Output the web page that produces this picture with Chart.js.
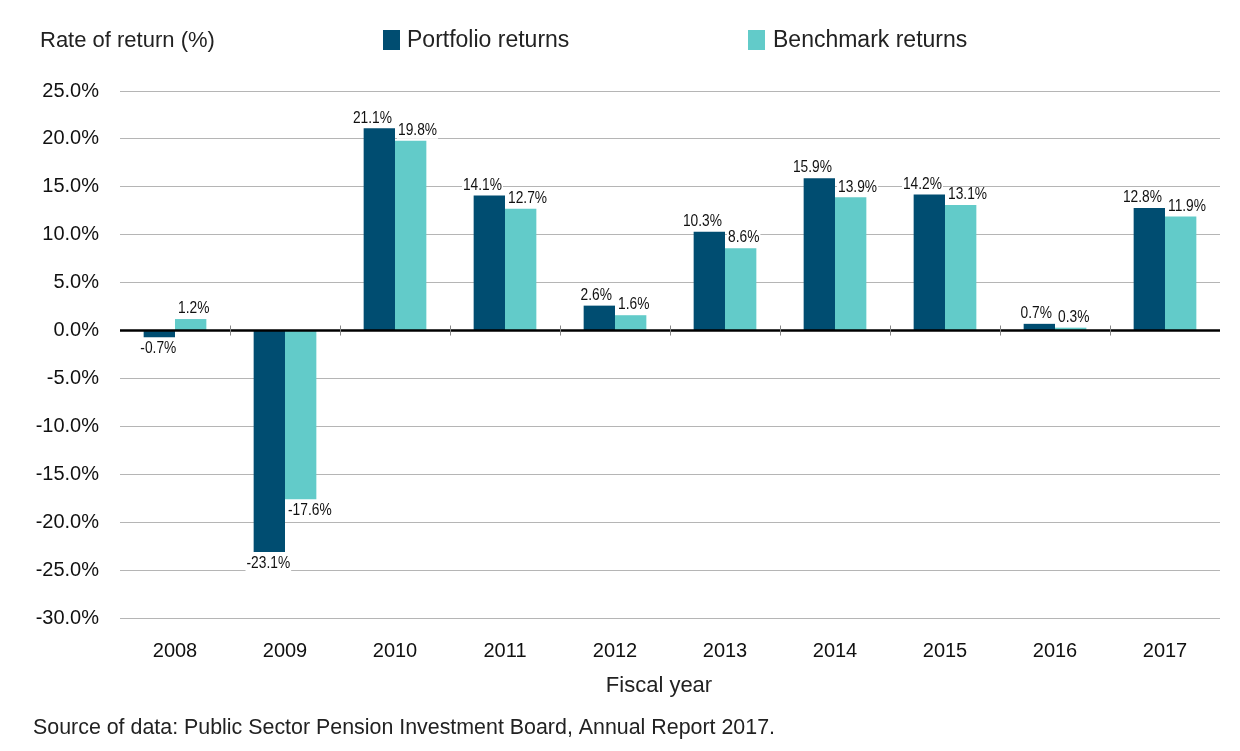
<!DOCTYPE html>
<html>
<head>
<meta charset="utf-8">
<script src="https://cdn.jsdelivr.net/npm/chart.js@4"></script>
<style>
  html, body { margin: 0; padding: 0; background: #fff; }
  #wrap { position: relative; width: 1240px; height: 751px; }
</style>
</head>
<body>
<div id="wrap"><canvas id="returnsChart" width="1240" height="751"></canvas></div>
<script>
// chart values
var years = ['2008', '2009', '2010', '2011', '2012', '2013', '2014', '2015', '2016', '2017'];
var portfolioReturns = [-0.7, -23.1, 21.1, 14.1, 2.6, 10.3, 15.9, 14.2, 0.7, 12.8];
var benchmarkReturns = [1.2, -17.6, 19.8, 12.7, 1.6, 8.6, 13.9, 13.1, 0.3, 11.9];
var yTicks = [25, 20, 15, 10, 5, 0, -5, -10, -15, -20, -25, -30];

var darkBlue = '#004d71';
var teal = '#62cbc9';
var baseFont = '"Liberation Sans", Arial, sans-serif';
var squeeze = 0.81; // labels in the original are a condensed face

// draws a squeezed label; align is 'left', 'right' or 'center'
function drawLabel(ctx, txt, x, y, align, above) {
  var w = ctx.measureText(txt).width * squeeze;
  var left = align === 'left' ? x : align === 'right' ? x - w : x - w / 2;
  var top = above ? y - 17 : y;
  ctx.fillStyle = '#fff';
  ctx.fillRect(left - 1, top + 1, w + 2, 16);
  ctx.save();
  ctx.translate(left, top);
  ctx.scale(squeeze, 1);
  ctx.fillStyle = '#111';
  ctx.textAlign = 'left';
  ctx.textBaseline = 'top';
  ctx.fillText(txt, 0, 0);
  ctx.restore();
}

// zero line, value labels, zero line ticks and the extra texts
var extrasPlugin = {
  id: 'extras',
  afterDatasetsDraw: function (chart) {
    var ctx = chart.ctx;
    var x = chart.scales.x, y = chart.scales.y;
    var y0 = y.getPixelForValue(0);
    ctx.save();

    ctx.strokeStyle = '#000';
    ctx.lineWidth = 2.5;
    ctx.beginPath();
    ctx.moveTo(x.left, y0);
    ctx.lineTo(x.right, y0);
    ctx.stroke();

    var step = (x.right - x.left) / years.length;
    ctx.strokeStyle = '#888';
    ctx.lineWidth = 1;
    for (var k = 1; k < years.length; k++) {
      var px = Math.round(x.left + step * k) + 0.5;
      ctx.beginPath();
      ctx.moveTo(px, y0 - 5);
      ctx.lineTo(px, y0 + 5);
      ctx.stroke();
    }

    ctx.font = '17px ' + baseFont;
    chart.data.datasets.forEach(function (ds, i) {
      var meta = chart.getDatasetMeta(i);
      meta.data.forEach(function (bar, j) {
        var v = ds.data[j];
        var txt = v.toFixed(1) + '%';
        var half = bar.width / 2;
        var align, lx;
        if (i === 1) { align = 'left'; lx = bar.x - half + 3; }
        else if (v >= 0) { align = 'right'; lx = bar.x + half - 3; }
        else { align = 'center'; lx = bar.x - 1; }
        if (v >= 0) drawLabel(ctx, txt, lx, bar.y - 2, align, true);
        else drawLabel(ctx, txt, lx, bar.y + 3, align, false);
      });
    });

    // header and footer
    ctx.fillStyle = '#222';
    ctx.textBaseline = 'middle';
    ctx.textAlign = 'left';
    ctx.font = '22px ' + baseFont;
    ctx.fillText('Rate of return (%)', 40, 41);
    ctx.fillStyle = darkBlue;
    ctx.fillRect(383, 30, 17, 20);
    ctx.fillStyle = teal;
    ctx.fillRect(748, 30, 17, 20);
    ctx.fillStyle = '#222';
    ctx.font = '23px ' + baseFont;
    ctx.fillText('Portfolio returns', 407, 41);
    ctx.fillText('Benchmark returns', 773, 41);
    ctx.textAlign = 'center';
    ctx.font = '22px ' + baseFont;
    ctx.fillText('Fiscal year', 659, 686);
    ctx.textAlign = 'left';
    ctx.font = '21.4px ' + baseFont;
    ctx.fillText('Source of data: Public Sector Pension Investment Board, Annual Report 2017.', 33, 728);
    ctx.restore();
  }
};

var ctx = document.getElementById('returnsChart').getContext('2d');

var returnsChart = new Chart(ctx, {
  type: 'bar',
  data: {
    labels: years,
    datasets: [{
      label: 'Portfolio returns',
      data: portfolioReturns,
      backgroundColor: darkBlue
    }, {
      label: 'Benchmark returns',
      data: benchmarkReturns,
      backgroundColor: teal
    }]
  },
  options: {
    responsive: false,
    animation: false,
    layout: { padding: { top: 91, right: 20, left: 0, bottom: 0 } },
    datasets: {
      bar: { categoryPercentage: 0.57, barPercentage: 1 }
    },
    plugins: {
      legend: { display: false },
      tooltip: { enabled: false }
    },
    scales: {
      x: {
        grid: { display: false },
        border: { display: false },
        ticks: { color: '#111', font: { family: baseFont, size: 20 }, padding: 13 },
        afterFit: function (scale) { scale.height = 133; }
      },
      y: {
        min: -30,
        max: 25,
        afterBuildTicks: function (scale) {
          scale.ticks = yTicks.map(function (v) { return { value: v }; });
        },
        border: { display: false },
        grid: {
          drawTicks: false,
          color: '#b5b5b5',
          lineWidth: 1
        },
        ticks: {
          color: '#111',
          padding: 21,
          font: { family: baseFont, size: 20 },
          callback: function (v) { return v.toFixed(1) + '%'; }
        },
        afterFit: function (scale) { scale.width = 120; }
      }
    }
  },
  plugins: [extrasPlugin]
});
</script>
</body>
</html>
